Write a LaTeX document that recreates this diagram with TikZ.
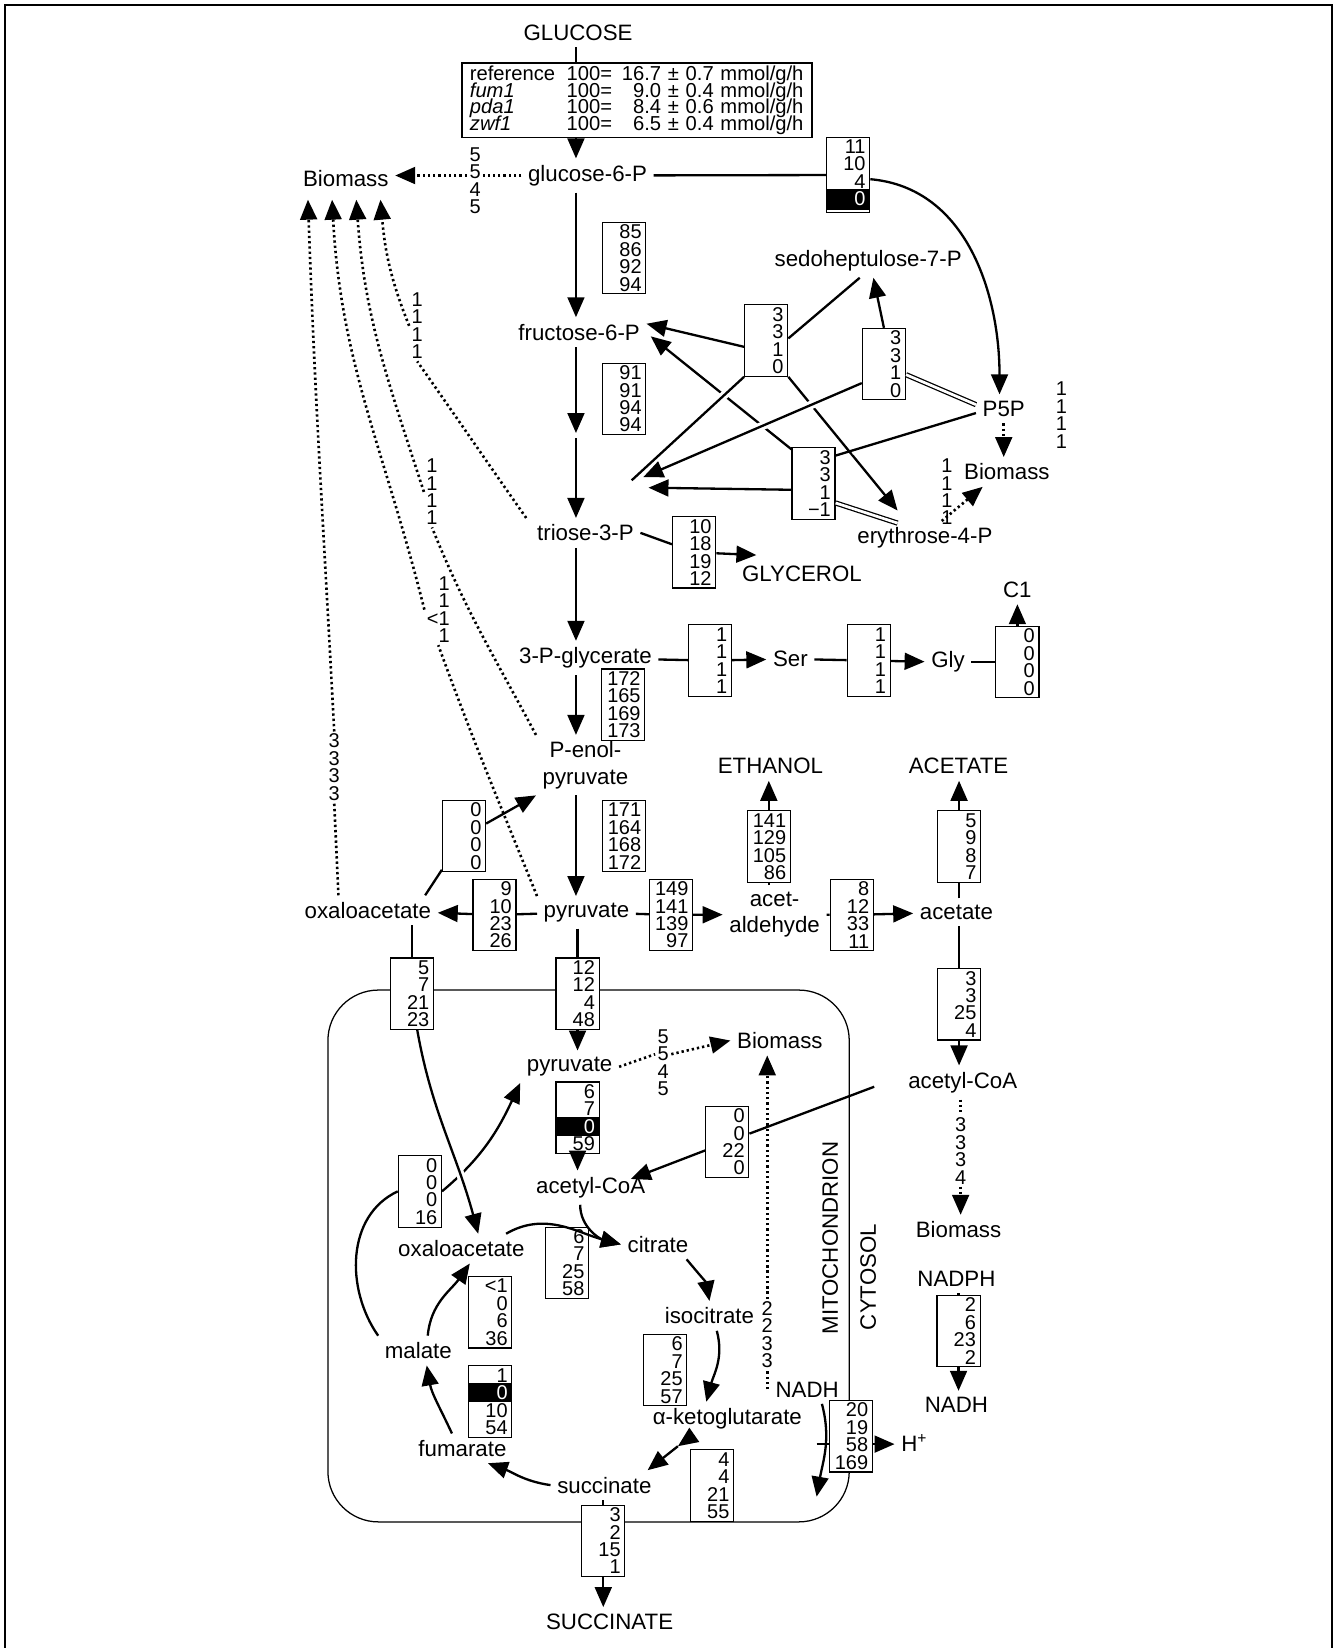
\documentclass[tikz,border=0pt]{standalone}
\usepackage{fontspec}
\setmainfont{Liberation Sans}
\usetikzlibrary{arrows.meta}

\newcommand{\metfnt}{\fontsize{10.6}{12.5}\selectfont}
\newcommand{\numfnt}{\fontsize{9.5}{8.3}\selectfont\lineskiplimit=-10pt}
\newcommand{\tblfnt}{\fontsize{9.6}{7.85}\selectfont\lineskiplimit=-10pt}
% black row inside a flux box
\newcommand{\blk}[2][1.3pt]{\leavevmode\hbox to 16.5pt{\hskip-2pt\rlap{\rule[-#1]{20.5pt}{\dimexpr7.9pt+#1\relax}}\hskip2pt\hfill\textcolor{white}{#2}}}

\tikzset{
  met/.style     = {font=\metfnt, inner sep=3pt, align=center},
  flux/.style    = {draw, fill=white, line width=0.55pt, font=\numfnt, align=right,
                    text width=16.5pt, inner xsep=2pt, inner ysep=1pt, minimum height=34pt},
  lbl/.style     = {font=\numfnt, align=right, inner sep=1pt},
  ln/.style      = {line width=1.1pt},
  arr/.style     = {ln, -{Triangle[length=9.5pt,width=8pt]}},
  dots/.style    = {line width=1.25pt, dash pattern=on 1.1pt off 1.4pt},
  dotarr/.style  = {dots, -{Triangle[length=9.5pt,width=8pt]}},
  dbl/.style     = {double, double distance=1.3pt, line width=0.6pt},
  halo/.style    = {preaction={draw=white, -, line width=4pt, shorten <=8pt, shorten >=8pt}},
  membrane/.style= {line width=0.6pt, rounded corners=24pt},
}

\begin{document}
\begin{tikzpicture}[x=0.5pt,y=-0.5pt]
  \useasboundingbox (0,0) rectangle (1272,1568);
  \draw[line width=1pt] (5,1568) -- (5,5) -- (1267,5) -- (1267,1568);
  \draw[membrane] (312,942) rectangle (808,1448);
  \coordinate (colx) at (548,0);

  % glycolysis
  \node[met] (glc) at (550,31) {GLUCOSE};
  \node[draw, line width=0.6pt, font=\tblfnt, align=left, text width=159pt,
        inner xsep=3.75pt, inner ysep=1.5pt, anchor=west] (tbl) at (439,95.5)
    {\makebox[46pt][l]{reference}\makebox[45pt][l]{100=\hfill16.7} ± 0.7 mmol/g/h\\
     \makebox[46pt][l]{\itshape fum1}\makebox[45pt][l]{100=\hfill9.0} ± 0.4 mmol/g/h\\
     \makebox[46pt][l]{\itshape pda1}\makebox[45pt][l]{100=\hfill8.4} ± 0.6 mmol/g/h\\
     \makebox[46pt][l]{\itshape zwf1}\makebox[45pt][l]{100=\hfill6.5} ± 0.4 mmol/g/h};
  \node[met] (g6p) at (559,167) {glucose-6-P};
  \node[met] (bmA) at (329,170) {Biomass};
  \node[lbl] (lblA) at (452,172) {5\\5\\4\\5};
  \coordinate (bmt1) at (293,190);
  \coordinate (bmt2) at (316,190);
  \coordinate (bmt3) at (339,190);
  \coordinate (bmt4) at (362,190);
  \node[flux] (pgi) at (594,245.5) {85\\86\\92\\94};
  \node[met] (f6p) at (551,316) {fructose-6-P};
  \node[flux] (pfk) at (594,379.5) {91\\91\\94\\94};
  \coordinate (fbp) at (548,412);
  \node[met] (t3p) at (557,507) {triose-3-P};
  \node[flux] (gpd) at (660.5,525.5) {10\\18\\19\\12};
  \node[met] (glyc) at (763,546) {GLYCEROL};
  \node[met] (pg3) at (557,626) {3-P-glycerate};
  \node[flux] (serA) at (675.5,628.5) {1\\1\\1\\1};
  \node[met] (ser) at (752,627) {Ser};
  \node[flux] (shm) at (826.5,628.5) {1\\1\\1\\1};
  \node[met] (gly) at (902,630) {Gly};
  \node[flux] (gcv) at (968,630) {0\\0\\0\\0};
  \node[met] (c1) at (968,561) {C1};
  \node[flux] (eno) at (593,670.5) {172\\165\\169\\173};
  \node[met] (pep) at (557,728) {P-enol-\\pyruvate};
  \node[flux] (pyk) at (593.5,795.5) {171\\164\\168\\172};
  \node[met] (pyr) at (558,868) {pyruvate};
  \node[flux] (pyc) at (470.5,870.5) {9\\10\\23\\26};
  \node[met] (oaa) at (350,866) {oxaloacetate};
  \node[flux] (pck) at (441.5,795.5) {0\\0\\0\\0};
  \node[flux] (pdc) at (638.5,870.5) {149\\141\\139\\97};
  \node[met] (acald) at (737,870) {acet-\\aldehyde};
  \node[flux] (adh) at (731.5,805.5) {141\\129\\105\\86};
  \node[met] (etoh) at (733,729) {ETHANOL};
  \node[flux] (ald) at (810.5,870.5) {8\\12\\33\\11};
  \node[met] (ac) at (910,868) {acetate};
  \node[flux] (acex) at (912.5,805.5) {5\\9\\8\\7};
  \node[met] (acet) at (912,729) {ACETATE};
  \node[flux] (acs) at (912.5,955.5) {3\\3\\25\\4};
  \node[met] (accoa) at (916,1030) {acetyl-CoA};
  \node[lbl] (lblAc) at (914,1095) {3\\3\\3\\4};
  \node[met] (bmAc) at (912,1170) {Biomass};
  \node[lbl] (lblB4) at (397,310) {1\\1\\1\\1};
  \node[lbl] (lblB3) at (411,468) {1\\1\\1\\1};
  \node[lbl] (lblB2) at (417,580) {1\\1\\<1\\1};
  \node[lbl] (lblB1) at (318,730) {3\\3\\3\\3};

  % pentose phosphate
  \node[flux] (zwf) at (807,166.5) {11\\10\\4\\\blk[2.3pt]{0}};
  \node[met] (p5p) at (955,389) {P5P};
  \node[lbl] (lblP) at (1010,395) {1\\1\\1\\1};
  \node[met] (bmP) at (958,449) {Biomass};
  \node[met] (e4p) at (880,512) {erythrose-4-P};
  \node[lbl] (lblE) at (901,468) {1\\1\\1\\1};
  \node[met] (s7p) at (826,248) {sedoheptulose-7-P};
  \node[flux] (tal) at (729,324) {3\\3\\1\\0};
  \node[flux] (tkA) at (841,346.5) {3\\3\\1\\0};
  \node[flux] (tkB) at (774,460) {3\\3\\1\\−1};
  \coordinate (t3pA) at (612,454);
  \coordinate (t3pB) at (617,464);
  \coordinate (t3pC) at (601,457);

  % mitochondrion
  \node[flux] (ptr) at (549.5,945.5) {12\\12\\4\\48};
  \node[flux] (otr) at (392,945.5) {5\\7\\21\\23};
  \node[met] (mpyr) at (542,1015) {pyruvate};
  \node[lbl] (lblMp) at (631,1011) {5\\5\\4\\5};
  \node[met] (bmM) at (742,990) {Biomass};
  \node[flux] (pdh) at (549.5,1063.5) {6\\7\\\blk{0}\\59};
  \node[met] (maccoa) at (562,1130) {acetyl-CoA};
  \node[flux] (acc) at (692,1086.5) {0\\0\\22\\0};
  \node[flux] (mae) at (399.5,1133.5) {0\\0\\0\\16};
  \node[met] (moaa) at (439,1188) {oxaloacetate};
  \node[flux] (cs) at (539.5,1201.5) {6\\7\\25\\58};
  \node[met] (cit) at (626,1184) {citrate};
  \node[met] (icit) at (675,1252) {isocitrate};
  \node[flux] (idh) at (633,1303.5) {6\\7\\25\\57};
  \node[met] (akg) at (692,1350) {α-ketoglutarate};
  \node[flux] (kgd) at (677.5,1413.5) {4\\4\\21\\55};
  \node[met] (succ) at (575,1413) {succinate};
  \node[met] (fum) at (440,1378) {fumarate};
  \node[flux] (fumr) at (466.5,1333.5) {1\\\blk{0}\\10\\54};
  \node[met] (mal) at (398,1285) {malate};
  \node[flux] (mdh) at (466.5,1248.5) {<1\\0\\6\\36};
  \node[flux] (sucx) at (574,1466) {3\\2\\15\\1};
  \node[met] (SUCC) at (580,1543) {SUCCINATE};
  \node[met] (nadhM) at (768,1322) {NADH};
  \node[lbl] (lblN) at (730,1270) {2\\2\\3\\3};
  \node[flux] (nde) at (809.5,1366.5) {20\\19\\58\\169};
  \node[met] (hplus) at (870,1373) {H\textsuperscript{+}};
  \node[met] (nadph) at (910,1217) {NADPH};
  \node[flux] (tdh) at (912,1266.5) {2\\6\\23\\2};
  \node[met] (nadhC) at (910,1337) {NADH};
  \node[met, rotate=90] (mitol) at (790,1178) {MITOCHONDRION};
  \node[met, rotate=90] (cytl) at (826,1215) {CYTOSOL};

  % glycolysis connectors
  \draw[ln] (colx |- glc.south) -- (colx |- tbl.north);
  \draw[arr] (colx |- tbl.south) -- (colx |- g6p.north);
  \draw[dots] (g6p.west) -- (g6p.west -| lblA.east);
  \draw[dotarr] (g6p.west -| lblA.west) -- (g6p.west -| bmA.east);
  \draw[arr] (colx |- g6p.south) -- (colx |- f6p.north);
  \draw[arr] (colx |- f6p.south) -- (fbp);
  \draw[arr] ([yshift=-2.5pt]fbp) -- (colx |- t3p.north);
  \draw[ln] (t3p.east) -- (gpd);
  \draw[arr] (gpd) -- ([xshift=10pt,yshift=2pt]glyc.north west);
  \draw[arr] (colx |- t3p.south) -- (colx |- pg3.north);
  \draw[ln] (pg3) -- (serA);
  \draw[arr] (serA) -- (ser);
  \draw[ln] (ser) -- (shm);
  \draw[arr] (shm) -- (gly);
  \draw[ln] (gly) -- (gcv);
  \draw[arr] (gcv) -- (c1);
  \draw[arr] (colx |- pg3.south) -- (colx |- pep.north);
  \draw[arr] (colx |- pep.south) -- (colx |- pyr.north);
  \draw[ln] (pyr) -- (pyc);
  \draw[arr] (pyc) -- (oaa);
  \draw[ln] ([xshift=-6pt]oaa.north east) -- (pck);
  \draw[arr] (pck) -- (pep.south west);
  \draw[ln] (pyr) -- (pdc);
  \draw[arr] (pdc) -- (acald);
  \draw[ln] (adh.south |- acald.north) -- (adh);
  \draw[arr] (adh) -- (adh.north |- etoh.south);
  \draw[ln] (acald) -- (ald);
  \draw[arr] (ald) -- (ac);
  \draw[ln] (acex.south |- ac.north) -- (acex);
  \draw[arr] (acex) -- (acex.north |- acet.south);
  \draw[ln] (acs.north |- ac.south) -- (acs);
  \draw[arr] (acs) -- (acs.south |- accoa.north);
  \draw[dots] (lblAc.north |- accoa.south) -- (lblAc);
  \draw[dotarr] (lblAc) -- (lblAc.south |- bmAc.north);
  \draw[ln] ([xshift=-13pt,yshift=-2pt]accoa.west) -- (acc);
  \draw[arr] (acc) -- ([xshift=-10pt,yshift=-4pt]maccoa.north east);

  % biomass drains
  \draw[dots] ([xshift=-2pt]t3p.north west) to[out=125,in=-55] (lblB4.south);
  \draw[dotarr] (lblB4.west) to[out=112,in=-85] (bmt4);
  \draw[dots] (pep.north west) to[out=118,in=-68] (lblB3.south);
  \draw[dotarr] (lblB3.west) to[out=108,in=-86] (bmt3);
  \draw[dots] (pyr.north west) to[out=112,in=-70] (lblB2.south);
  \draw[dotarr] (lblB2.west) to[out=104,in=-87] (bmt2);
  \draw[dots] ([xshift=-14pt]oaa.north) -- (lblB1.south);
  \draw[dotarr] (lblB1.north) to[out=93,in=-88] (bmt1);

  % pentose phosphate connectors
  \draw[ln] (g6p) -- (zwf);
  \draw[arr] ([yshift=-2pt]zwf.east) to[out=-5,in=90] ([xshift=-2pt]p5p.north);
  \draw[ln] ([xshift=-4pt]s7p.south) -- ([yshift=1pt]tal.east);
  \draw[arr] ([yshift=-3pt]tal.west) -- ([yshift=4pt]f6p.east);
  \draw[arr] (tal.south east) -- ([xshift=-13pt,yshift=5pt]e4p.north);
  \draw[arr] ([yshift=-1pt]tkB.north west) -- ([xshift=2pt,yshift=-2pt]f6p.east);
  \draw[ln,halo] (tal.south west) -- (t3pC);
  \draw[arr,halo] ([yshift=-9pt]tkA.west) -- (t3pA);
  \draw[ln,halo] ([yshift=-2pt]p5p.west) -- ([yshift=-4pt]tkB.north east);
  \draw[arr] (tkA.north) -- ([xshift=2.5pt]s7p.south);
  \draw[dbl] ([yshift=-5pt]tkA.east) -- ([yshift=2pt]p5p.west);
  \draw[arr] ([yshift=-3pt]tkB.west) -- (t3pB);
  \draw[dbl] ([yshift=8pt]tkB.south east) -- ([xshift=-13pt,yshift=-1pt]e4p.north);
  \draw[dotarr] (p5p.south) -- (p5p.south |- bmP.north);
  \draw[dotarr] ([xshift=8pt]e4p.north) -- ([xshift=12pt]bmP.south west);

  % mitochondrial connectors
  \draw[ln] (ptr.north |- pyr.south) -- (ptr);
  \draw[arr] (ptr) -- (ptr.south |- mpyr.north);
  \draw[ln] (otr.north |- oaa.south) -- (otr);
  \draw[dots] (mpyr.east) -- ([yshift=4pt]lblMp.west);
  \draw[dotarr] ([yshift=4pt]lblMp.east) -- (bmM.west);
  \draw[ln] (pdh.north |- mpyr.south) -- (pdh);
  \draw[arr] (pdh) -- (pdh.south |- maccoa.north);
  \draw[dots] (lblN.south |- nadhM.west) -- (lblN);
  \draw[dotarr] (lblN) -- (lblN.north |- bmM.south);
  \draw[ln] (mal.north west) to[out=125,in=205] (mae.west);
  \draw[arr] (mae.east) to[out=40,in=-115] (mpyr.south west);
  \draw[arr,halo] ([xshift=2.5pt]otr.south) to[out=-80,in=105] ([xshift=8pt]moaa.north);
  \draw[arr] ([xshift=-5pt]maccoa.south) to[out=-90,in=165] (cit.west);
  \draw[arr] ([xshift=-12pt]moaa.north east) to[out=30,in=165] (cit.west);
  \draw[arr] ([xshift=-4pt]cit.south east) to[out=-50,in=100] (icit.north);
  \draw[arr] ([xshift=3.5pt]icit.south) to[out=-75,in=75] ([xshift=-10pt]akg.north);
  \coordinate (kgmid) at (645,1376);
  \draw[arr] ([xshift=-16.5pt]akg.south) -- (kgmid);
  \draw[arr] (kgmid) -- ([xshift=-5pt]succ.north east);
  \draw[arr] (succ.west) to[out=172,in=-20] ([xshift=-12pt]fum.south east);
  \draw[arr] ([xshift=-5pt]fum.north) to[out=115,in=-80] ([xshift=4pt]mal.south);
  \draw[arr] ([xshift=4.5pt]mal.north) to[out=85,in=-125] ([xshift=4pt]moaa.south);
  \draw[ln] (sucx.north |- succ.south) -- (sucx);
  \draw[arr] (sucx) -- (sucx.south |- SUCC.north);
  \coordinate (nadhend) at (777,1424);
  \draw[arr] ([xshift=7pt]nadhM.south) to[out=-75,in=80] (nadhend);
  \coordinate (hstart) at (777,1374);
  \draw[ln] (hstart) -- (hstart -| nde.west);
  \draw[arr] (hstart -| nde.east) -- (hstart -| hplus.west);
  \draw[ln] (tdh.north |- nadph.south) -- (tdh);
  \draw[arr] (tdh) -- (tdh.south |- nadhC.north);
\end{tikzpicture}
\end{document}
